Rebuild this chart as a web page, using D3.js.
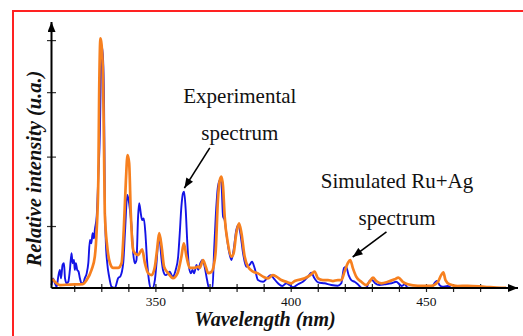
<!DOCTYPE html>
<html>
<head>
<meta charset="utf-8">
<script src="https://cdn.jsdelivr.net/npm/d3@7"></script>
<style>
  html, body { margin: 0; padding: 0; background: #fff; }
  svg { display: block; }
  text { font-family: "Liberation Serif", "Times New Roman", serif; }
</style>
</head>
<body>
<svg id="chart" width="523" height="336"></svg>
<script>
// ---- data (wavelength in nm, relative intensity in a.u.) ----
const simWavelength = [311.8,312.2,314.7,318.4,323.2,324.6,326.4,327.6,328.3,328.9,
  329.2,329.7,330.5,331.0,331.3,332.2,333.2,334.4,336.2,337.5,
  338.3,339.1,339.7,340.3,340.9,341.8,342.4,343.6,345.1,346.1,
  347.3,348.6,349.8,350.6,351.4,352.3,353.2,354.7,356.5,358.2,
  359.6,360.5,361.5,362.7,364.5,365.8,366.4,367.6,368.6,369.5,
  370.7,371.6,372.3,373.1,373.8,374.4,375.0,375.6,376.8,378.1,
  378.9,379.9,380.9,381.8,383.0,384.2,386.1,387.9,389.8,391.6,
  393.4,394.7,396.5,398.4,400.2,401.5,405.2,407.6,408.8,410.1,
  411.9,413.8,415.6,417.4,418.7,419.9,421.1,422.0,423.0,424.2,
  426.1,427.9,429.1,430.4,431.6,433.5,435.9,438.4,439.8,441.4,
  443.3,447.0,451.9,454.4,455.6,456.4,457.2,458.7,461.7,465.4,
  471.6,477.8,479.6];
const simIntensity = [3.6,3.2,1.2,1.4,1.6,3.2,7.3,12.6,23.4,43.5,
  77.1,100.7,90.7,57.0,30.2,16.7,10.1,8.1,8.1,10.1,
  23.4,43.5,53.6,50.4,30.2,15.3,14.1,13.3,15.6,10.1,
  6.0,5.2,8.6,15.3,22.1,16.7,8.6,6.0,4.0,6.0,
  12.6,18.0,12.6,8.1,8.1,8.6,8.1,11.3,8.6,6.0,
  6.5,9.3,15.3,35.5,43.5,44.9,40.8,28.8,18.0,12.6,
  14.0,22.1,26.1,22.1,12.6,8.6,6.6,5.9,4.6,3.9,
  5.2,4.6,3.2,2.5,1.9,2.8,3.9,5.5,6.6,3.9,
  3.2,3.2,2.8,3.2,3.2,6.6,10.0,11.3,7.9,4.6,
  2.5,1.2,2.5,4.2,2.8,1.9,2.5,3.5,4.2,2.5,
  1.5,0.9,0.9,2.5,5.2,6.3,3.2,1.5,0.8,0.9,
  0.5,0.1,0.1];

const expWavelength = [311.6,312.2,312.9,313.5,314.1,314.7,315.1,315.7,316.2,316.6,
  317.2,317.8,318.4,319.0,319.4,319.9,320.2,320.6,321.1,321.6,
  322.1,322.7,323.3,323.9,324.6,325.2,325.8,326.3,326.8,327.3,
  327.6,328.3,328.9,329.5,329.8,330.2,330.5,331.0,331.3,331.7,
  332.2,332.9,333.8,335.0,336.2,337.1,338.1,338.8,339.6,340.1,
  340.6,341.2,341.8,342.4,343.0,343.6,344.0,344.6,345.1,345.7,
  346.3,346.9,347.6,348.2,348.9,349.8,350.4,351.0,351.5,352.3,
  352.8,353.8,354.7,355.3,356.3,357.5,358.4,359.0,359.6,360.2,
  360.6,361.2,361.8,362.4,363.1,363.7,364.3,365.2,365.8,366.6,
  367.4,368.2,369.1,369.8,371.1,371.7,372.3,373.1,373.8,374.4,
  375.0,375.6,376.2,377.1,378.1,378.9,379.9,380.7,381.4,382.4,
  383.6,384.8,385.7,386.7,387.9,389.8,391.2,392.6,393.7,395.3,
  396.9,398.4,399.6,400.8,402.7,404.5,406.4,407.6,408.8,410.1,
  412.5,415.0,417.4,418.7,419.7,420.5,421.4,422.4,423.6,424.8,
  426.3,427.9,429.1,430.0,431.2,432.8,434.7,437.2,439.0,440.2,
  441.1,442.1,443.3,447.0,451.9,453.4,454.1,455.0,456.2,458.0,459.3];
const expIntensity = [1.2,3.9,1.9,0.5,4.6,7.3,3.9,9.3,10.0,3.9,
  1.9,2.5,7.3,14.0,10.0,11.3,7.3,10.0,7.3,6.6,
  3.9,1.9,1.9,3.9,5.9,10.0,19.4,18.0,22.1,20.0,
  23.4,28.8,44.9,63.7,83.9,96.0,96.7,77.1,36.8,18.0,
  10.0,4.6,0.5,0,3.9,4.8,10.0,23.4,37.5,35.5,
  31.5,24.7,14.0,10.0,11.3,28.8,34.2,30.1,27.4,28.1,
  22.1,11.3,3.2,0,0,3.2,10.0,18.0,19.4,11.3,
  7.3,5.2,5.9,6.6,4.6,7.3,12.6,22.1,32.8,38.2,
  38.8,31.5,18.0,8.6,5.9,7.3,5.9,9.3,7.3,10.0,
  11.3,8.6,3.2,0,0,15.3,28.8,40.8,43.5,42.2,
  28.8,27.4,22.1,15.3,11.3,15.3,23.4,25.4,22.1,14.0,
  8.6,9.3,10.6,7.9,3.2,2.5,3.9,5.2,3.9,1.9,
  0.8,1.9,1.2,0.3,1.5,2.5,4.6,6.2,3.9,2.3,
  1.9,1.2,0.9,1.9,8.1,8.5,5.2,3.2,2.5,1.5,
  0,0.1,2.8,3.2,1.9,1.2,1.5,1.9,2.5,1.5,
  0.8,1.5,0.1,0,0.1,2.3,2.8,1.2,0.5,0.8,0];

const xTickValues = [320,330,340,350,360,370,380,390,400,410,420,430,440,450,460,470];
const xTickLabels = [350,400,450];
const yTickValues = [25,53,79,100];

// annotations: [text, wavelength, intensity]
const labelTexts = ["Experimental","spectrum","Simulated Ru+Ag","spectrum"];
const labelWavelength = [381.2,381.2,439.3,439.3];
const labelIntensity = [74.6,59.7,40.4,25.4];
// arrows: from (wl, int) to (wl, int)
const arrowFromWl = [370.1,435.4];
const arrowFromInt = [56.5,22.6];
const arrowToWl = [360.7,422.9];
const arrowToInt = [40.3,12.5];

// ---- drawing ----
const svg = d3.select("#chart");
svg.append("rect").attr("width",523).attr("height",336).attr("fill","#fff");
// red frame
svg.append("rect").attr("x",13).attr("y",11).attr("width",540).attr("height",360)
  .attr("fill","none").attr("stroke","#f22").attr("stroke-width",2);

const x = d3.scaleLinear().domain([311.6,484]).range([51.5,518]);
const y = d3.scaleLinear().domain([0,107.3]).range([288,22]);

const defs = svg.append("defs");
defs.append("marker").attr("id","axArrow").attr("viewBox","0 0 10 8")
  .attr("refX",10).attr("refY",4).attr("markerWidth",10).attr("markerHeight",8)
  .attr("markerUnits","userSpaceOnUse").attr("orient","auto")
  .append("path").attr("d","M0,0L10,4L0,8Z").attr("fill","#000");
defs.append("marker").attr("id","annArrow").attr("viewBox","0 0 10 8")
  .attr("refX",10).attr("refY",4).attr("markerWidth",11).attr("markerHeight",8)
  .attr("markerUnits","userSpaceOnUse").attr("orient","auto")
  .append("path").attr("d","M0,0L10,4L0,8Z").attr("fill","#000");

// axes ticks
const xAxis = svg.append("g").attr("transform",`translate(0,${y(0)})`)
  .call(d3.axisBottom(x).tickValues(xTickValues)
    .tickFormat(d => xTickLabels.includes(d) ? d : "").tickSize(4).tickPadding(4));
xAxis.select(".domain").remove();
xAxis.selectAll(".tick line").attr("y1",-4).attr("y2",4).attr("stroke","#222").attr("stroke-width",1.2);
xAxis.selectAll(".tick text").attr("font-size",13.5).attr("font-family","Liberation Serif, serif").attr("fill","#111");

const yAxis = svg.append("g").attr("transform",`translate(${x(311.6)},0)`)
  .call(d3.axisLeft(y).tickValues(yTickValues).tickFormat(""));
yAxis.select(".domain").remove();
yAxis.selectAll(".tick line").attr("x1",-4.5).attr("x2",4.5).attr("stroke","#333").attr("stroke-width",1.2);

// series
const line = d3.line().x(d => x(d[0])).y(d => y(d[1])).curve(d3.curveMonotoneX);
const expData = expWavelength.map((w,i) => [w, expIntensity[i]]);
const simData = simWavelength.map((w,i) => [w, simIntensity[i]]);
svg.append("path").datum(expData).attr("d",line).attr("fill","none")
  .attr("stroke","#1414e6").attr("stroke-width",1.9).attr("stroke-linejoin","round");
svg.append("path").datum(simData).attr("d",line).attr("fill","none")
  .attr("stroke","#f7801f").attr("stroke-width",2.7).attr("stroke-linejoin","round");

// axis lines with arrows
svg.append("line").attr("x1",x(311.6)).attr("x2",x(484)).attr("y1",y(0)).attr("y2",y(0))
  .attr("stroke","#000").attr("stroke-width",2).attr("marker-end","url(#axArrow)");
svg.append("line").attr("x1",x(311.6)).attr("x2",x(311.6)).attr("y1",y(0)).attr("y2",y(107.3))
  .attr("stroke","#000").attr("stroke-width",2).attr("marker-end","url(#axArrow)");

// annotations
labelTexts.forEach((t,i) => {
  svg.append("text").attr("x",x(labelWavelength[i])).attr("y",y(labelIntensity[i]))
    .attr("text-anchor","middle").attr("font-size",21).attr("fill","#111").text(t);
});
arrowFromWl.forEach((w,i) => {
  svg.append("line").attr("x1",x(w)).attr("y1",y(arrowFromInt[i]))
    .attr("x2",x(arrowToWl[i])).attr("y2",y(arrowToInt[i]))
    .attr("stroke","#000").attr("stroke-width",1.6).attr("marker-end","url(#annArrow)");
});

// axis titles
svg.append("text").attr("x",265).attr("y",326).attr("text-anchor","middle")
  .attr("font-size",20).attr("font-weight","bold").attr("font-style","italic")
  .attr("fill","#111").text("Wavelength (nm)");
svg.append("text").attr("transform","translate(40.5,168.5) rotate(-90)").attr("text-anchor","middle")
  .attr("font-size",20.5).attr("font-weight","bold").attr("font-style","italic")
  .attr("fill","#111").text("Relative intensity (u.a.)");
</script>
</body>
</html>
